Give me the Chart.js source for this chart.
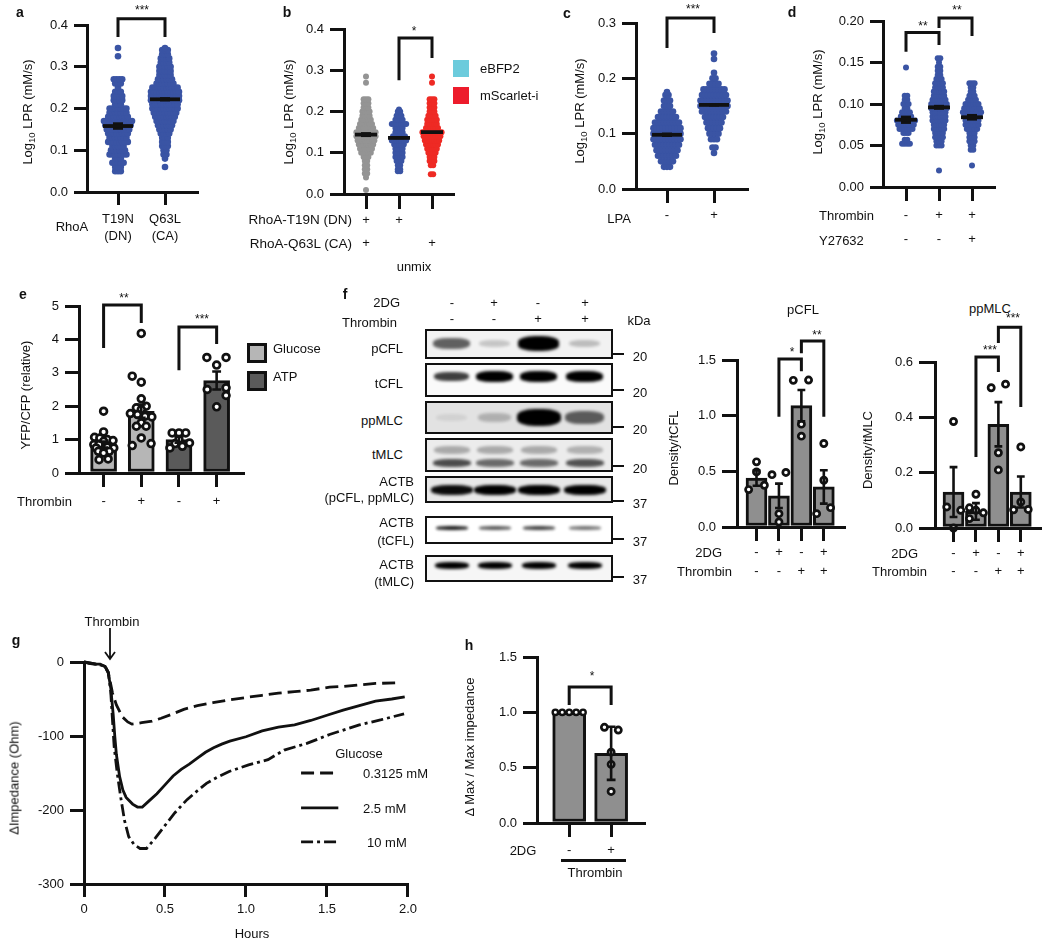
<!DOCTYPE html>
<html>
<head>
<meta charset="utf-8">
<script src="https://cdn.jsdelivr.net/npm/chart.js@4/dist/chart.umd.min.js"></script>
<style>
  body { margin: 0; background: #fff; }
  #fig { position: relative; width: 1050px; height: 946px; overflow: hidden; font-family: "Liberation Sans", Arial, sans-serif; color: #111; }
  #fig canvas { position: absolute; }
  .t { position: absolute; white-space: nowrap; font-size: 13px; line-height: 1; }
  .t sub { font-size: 9.5px; line-height: 0; }
  .box { position: absolute; box-sizing: border-box; border: 2.5px solid #111; overflow: hidden; }
  .band { position: absolute; background: #000; border-radius: 40%; filter: blur(1.5px); }
  .mark { position: absolute; height: 2px; background: #111; }
</style>
</head>
<body>
<div id="fig"></div>
<script>
// panel a: swarm rows, level and number of dots on that level
const a1Levels = [0.05,0.06,0.07,0.08,0.09,0.10,0.11,0.12,0.13,0.14,0.15,0.16,0.17,0.18,0.19,0.20,0.21,0.22,0.23,0.24,0.25,0.26,0.27,0.325,0.345];
const a1Counts = [3,3,5,3,7,6,5,8,7,8,9,10,11,8,7,7,3,4,4,3,1,3,4,1,1];
const a2Levels = [0.06,0.08,0.09,0.10,0.11,0.12,0.13,0.14,0.15,0.16,0.17,0.18,0.19,0.20,0.21,0.22,0.23,0.24,0.25,0.26,0.27,0.28,0.29,0.30,0.31,0.32,0.33,0.34,0.345];
const a2Counts = [1,1,2,2,3,3,3,4,5,6,7,8,9,10,10,11,11,11,10,7,6,5,5,5,4,4,3,3,1];
const aMeans = [0.158, 0.222];
const aSem = [0.009, 0.005];
const aXLabels = [['T19N','(DN)'],['Q63L','(CA)']];
const aBrackets = [[1,0.371,0.415,2,0.371]];

// panel b
const b1Levels = [0.01,0.04,0.05,0.06,0.07,0.08,0.09,0.10,0.11,0.12,0.13,0.14,0.15,0.16,0.17,0.18,0.19,0.20,0.21,0.22,0.23,0.27,0.285];
const b1Counts = [1,1,2,2,2,2,3,5,6,7,8,9,9,7,6,5,4,4,3,3,3,1,1];
const b2Levels = [0.055,0.06,0.07,0.08,0.09,0.10,0.11,0.12,0.13,0.14,0.15,0.16,0.17,0.18,0.19,0.20,0.205];
const b2Counts = [2,2,2,3,4,4,4,5,7,6,4,4,7,4,3,2,1];
const b3Levels = [0.048,0.07,0.08,0.09,0.10,0.11,0.12,0.13,0.14,0.15,0.16,0.17,0.18,0.19,0.20,0.21,0.22,0.23,0.27,0.285];
const b3Counts = [2,2,3,3,4,5,6,7,8,9,6,5,5,4,3,3,3,3,1,1];
const bMeans = [0.144, 0.136, 0.15];
const bSem = [0.006, 0.003, 0.002];
const bXLabels = [['+','+','mix'],['+','',''],['','+','']];
const bBrackets = [[2,0.276,0.378,3,0.33]];

// panel c
const c1Levels = [0.04,0.05,0.06,0.07,0.08,0.09,0.10,0.11,0.12,0.13,0.14,0.15,0.16,0.17,0.175];
const c1Counts = [3,5,7,8,9,10,10,10,9,7,5,3,3,2,1];
const c2Levels = [0.065,0.075,0.09,0.10,0.11,0.12,0.13,0.14,0.15,0.16,0.17,0.18,0.19,0.20,0.21,0.235,0.245];
const c2Counts = [1,2,3,4,5,6,7,9,10,10,9,8,4,2,1,1,1];
const cMeans = [0.098, 0.152];
const cSem = [0.004, 0.003];
const cXLabels = ['-','+'];
const cBrackets = [[1,0.255,0.309,2,0.282]];

// panel d
const d1Levels = [0.052,0.057,0.065,0.07,0.075,0.08,0.085,0.09,0.095,0.10,0.105,0.11,0.144];
const d1Counts = [4,2,3,6,7,8,5,4,2,3,2,2,1];
const d2Levels = [0.02,0.05,0.055,0.06,0.065,0.07,0.075,0.08,0.085,0.09,0.095,0.10,0.105,0.11,0.115,0.12,0.125,0.13,0.135,0.14,0.145,0.15,0.155];
const d2Counts = [1,3,3,4,4,5,5,6,6,6,7,7,6,5,5,4,4,3,2,2,2,1,2];
const d3Levels = [0.026,0.045,0.05,0.055,0.06,0.065,0.07,0.075,0.08,0.085,0.09,0.095,0.10,0.105,0.11,0.115,0.12,0.125];
const d3Counts = [1,2,2,3,3,3,5,6,6,7,8,7,6,4,3,2,2,3];
const dMeans = [0.081, 0.096, 0.084];
const dSem = [0.005, 0.003, 0.004];
const dXLabels = [['-','-'],['+','-'],['+','+']];
const dBrackets = [[1,0.163,0.186,2,0.171],[2,0.1916,0.2036,3,0.182]];

// panel e
const eHeights = [0.85, 1.85, 1.0, 2.77];
const eErrors = [0.09, 0.2, 0.09, 0.27];
const e1Values = [1.85,1.23,1.07,1.05,1.0,0.97,0.95,0.85,0.85,0.78,0.75,0.75,0.65,0.65,0.6,0.42,0.40];
const e1Jitter = [0,0,-0.24,-0.1,0.1,0.25,0,-0.26,-0.12,0.1,0.27,-0.2,-0.14,0.15,0,0.12,-0.12];
const e2Values = [4.18,2.9,2.72,2.22,2.0,1.95,1.9,1.78,1.75,1.7,1.68,1.5,1.4,1.4,1.05,0.88,0.82];
const e2Jitter = [0,-0.24,0,0,0.13,-0.13,0,-0.29,-0.1,0.1,0.28,0,-0.13,0.13,0,0.26,-0.24];
const e3Values = [1.2,1.2,1.2,1.0,0.9,0.88,0.8,0.75];
const e3Jitter = [-0.18,0,0.18,0,0.28,-0.1,0.09,-0.24];
const e4Values = [3.46,3.46,3.23,2.55,2.5,2.32,1.98];
const e4Jitter = [-0.26,0.25,0,0.25,-0.25,0.25,0];
const eXLabels = ['-','+','-','+'];
const eBrackets = [[1,3.74,5.03,2,4.49],[3,3.08,4.37,4,3.86]];

// panel f, quantification
const fXLabels = [['-','-'],['+','-'],['-','+'],['+','+']];
const pcflHeights = [0.44, 0.28, 1.09, 0.36];
const pcflErrors = [0.07, 0.11, 0.14, 0.15];
const pcfl1Values = [0.585,0.495,0.375,0.336];
const pcfl1Jitter = [0,0,0.35,-0.35];
const pcfl2Values = [0.49,0.47,0.12,0.045];
const pcfl2Jitter = [0.31,-0.31,0,0];
const pcfl3Values = [1.32,1.317,0.924,0.816];
const pcfl3Jitter = [0.32,-0.36,0,0];
const pcfl4Values = [0.75,0.42,0.174,0.12];
const pcfl4Jitter = [0,0,0.3,-0.32];
const pcflBrackets = [[2,0.99,1.51,3,1.40],[3,1.56,1.67,4,0.99]];

const ppmlcHeights = [0.13, 0.06, 0.375, 0.13];
const ppmlcErrors = [0.09, 0.03, 0.08, 0.056];
const ppmlc1Values = [0.385,0.076,0.064,0];
const ppmlc1Jitter = [0,-0.3,0.32,0];
const ppmlc2Values = [0.122,0.073,0.064,0.055,0.034];
const ppmlc2Jitter = [0,-0.29,0,0.33,-0.29];
const ppmlc3Values = [0.52,0.507,0.272,0.21];
const ppmlc3Jitter = [0.32,-0.32,0,0];
const ppmlc4Values = [0.293,0.094,0.067,0.066];
const ppmlc4Jitter = [0,0,0.33,-0.32];
const ppmlcBrackets = [[2,0.257,0.618,3,0.564],[3,0.669,0.726,4,0.437]];

// blot band strength, one value per lane
const bandPcfl = [0.6,0.18,1,0.22];
const bandTcfl = [0.75,1,1,1];
const bandPpmlc = [0.07,0.22,1,0.6];
const bandTmlcUp = [0.28,0.28,0.28,0.25];
const bandTmlcLow = [0.68,0.55,0.55,0.65];
const bandActb1 = [0.95,1,1,1];
const bandActb2 = [0.9,0.65,0.75,0.55];
const bandActb3 = [1,1,1,1];

// panel g
const gTicks = [0, 0.5, 1, 1.5, 2];
const gTickLabels = ['0','0.5','1.0','1.5','2.0'];
const gHours2 = [0,0.03,0.06,0.1,0.13,0.15,0.165,0.18,0.19,0.2,0.22,0.24,0.26,0.3,0.33,0.36,0.4,0.45,0.5,0.55,0.6,0.65,0.7,0.75,0.8,0.85,0.9,1,1.1,1.2,1.3,1.4,1.5,1.6,1.7,1.8,1.9,1.98];
const gSolid = [0,-2,-3,-3,-6,-15,-35,-70,-100,-125,-155,-173,-183,-192,-196,-196,-188,-178,-166,-154,-145,-138,-130,-122,-116,-111,-107,-101,-93,-88,-85,-79,-72,-65,-59,-53,-50,-47];
const gHoursLow = [0,0.05,0.1,0.13,0.15,0.176,0.2,0.236,0.27,0.296,0.356,0.42,0.476,0.55,0.616,0.7,0.796,0.9,1,1.1,1.2,1.3,1.4,1.516,1.6,1.7,1.8,1.936];
const gLow = [0,-2,-4,-6,-14,-42,-58,-74,-81,-84,-82,-80,-76,-70,-64,-59,-55,-51,-48,-45,-42,-40,-38,-34,-33,-31,-29,-28];
const gHoursHigh = [0,0.05,0.1,0.13,0.15,0.165,0.186,0.205,0.226,0.25,0.276,0.31,0.346,0.386,0.44,0.496,0.56,0.636,0.7,0.756,0.82,0.896,1.016,1.136,1.236,1.376,1.516,1.7,1.836,1.976];
const gHigh = [0,-2,-4,-6,-14,-40,-114,-150,-182,-214,-236,-247,-252,-252,-238,-222,-204,-186,-174,-164,-156,-148,-139,-132,-119,-110,-98,-85,-78,-70];
const gLegendX = [1.34, 1.57];
const gLegendY = [-150, -197, -243];

// panel h
const hHeights = [1.0, 0.63];
const h1Values = [1,1,1,1,1];
const h1Jitter = [-0.33,-0.166,0,0.166,0.33];
const h2Values = [0.865,0.84,0.64,0.53,0.285];
const h2Jitter = [-0.16,0.17,0,0,0];
const hErrors = [0, 0.24];
const hXLabels = ['-','+'];
const hBrackets = [[1,1.066,1.229,2,1.066]];

const fig = document.getElementById('fig');
const FONT = '"Liberation Sans", Arial, sans-serif';
const BLUE = '#3a54a4', GREY = '#949494', RED = '#ee2a24', LIGHT = '#b6b6b6', DARK = '#5a5a5a', MID = '#8f8f8f';
const LW = 3;

function text(str, x, y, o = {}) {
  const el = document.createElement('div');
  el.className = 't';
  el.innerHTML = str;
  const tx = o.align === 'l' ? '0' : o.align === 'r' ? '-100%' : '-50%';
  el.style.left = x + 'px';
  el.style.top = y + 'px';
  el.style.transform = `translate(${tx},-50%)` + (o.rot ? ' rotate(-90deg)' : '');
  if (o.size) el.style.fontSize = o.size + 'px';
  if (o.bold) el.style.fontWeight = 'bold';
  fig.appendChild(el);
}

function stars(str, x, y) { text(str, x, y + 2, { size: 12 }); }
function letter(str, x, y) { text(str, x, y, { bold: true, size: 14 }); }

// swarm rows are spread around the category, dotPx apart
function swarm(x, levels, counts, dotPx, unit) {
  const pts = [];
  levels.forEach((v, i) => {
    for (let k = 0; k < counts[i]; k++) {
      pts.push({ x: x + (k - (counts[i] - 1) / 2) * dotPx / unit, y: v });
    }
  });
  return pts;
}

function dots(x, values, jitter) {
  return values.map((v, i) => ({ x: x + jitter[i], y: v }));
}

function lineSet(data, width, extra) {
  return Object.assign({ data, showLine: true, borderColor: '#111', borderWidth: width, pointRadius: 0, tension: 0, clip: false, borderCapStyle: 'butt', borderJoinStyle: 'miter' }, extra);
}

function bracketSets(list) {
  return list.map(b => lineSet([{ x: b[0], y: b[1] }, { x: b[0], y: b[2] }, { x: b[3], y: b[2] }, { x: b[3], y: b[4] }], LW));
}

function errorSet(means, errs, capPx, unit) {
  const d = [];
  means.forEach((m, i) => {
    if (!errs[i]) return;
    const x = i + 1, c = capPx / unit;
    d.push({ x, y: m - errs[i] }, { x, y: m + errs[i] }, { x, y: NaN });
    d.push({ x: x - c, y: m + errs[i] }, { x: x + c, y: m + errs[i] }, { x, y: NaN });
    d.push({ x: x - c, y: m - errs[i] }, { x: x + c, y: m - errs[i] }, { x, y: NaN });
  });
  return lineSet(d, LW - 0.4);
}

// thick mean bar and the short sem block of the swarm panels
function meanSets(means, sems, halfPx, unit) {
  const out = [];
  means.forEach((m, i) => {
    const x = i + 1;
    out.push(lineSet([{ x: x - halfPx / unit, y: m }, { x: x + halfPx / unit, y: m }], 3.8));
    out.push(lineSet([{ x, y: m - sems[i] }, { x, y: m + sems[i] }], 10));
  });
  return out;
}

function dotSet(data, color, r) {
  return { data, pointRadius: r, pointBackgroundColor: color, pointBorderWidth: 0, showLine: false, clip: false };
}

function ringSet(data, r, bw) {
  return { data, pointRadius: r, pointBackgroundColor: '#fff', pointBorderColor: '#111', pointBorderWidth: bw || 2.7, showLine: false, clip: false };
}

function barSet(heights, colors, thickness) {
  return { type: 'bar', data: heights.map((h, i) => ({ x: i + 1, y: h })), backgroundColor: colors, borderColor: '#111', borderWidth: 3, borderSkipped: false, barThickness: thickness, clip: false };
}

function panel(l, yOpts, xOpts, datasets) {
  const left = Math.max(0, l.L - 64), top = Math.max(0, l.T - (l.pad || 26));
  const right = l.R + 4, bottom = Math.min(946, l.B + 66);
  const cv = document.createElement('canvas');
  cv.width = right - left;
  cv.height = bottom - top;
  cv.style.left = left + 'px';
  cv.style.top = top + 'px';
  fig.appendChild(cv);
  const xMin = xOpts.min !== undefined ? xOpts.min : 1 - (l.t1 - l.L) / l.unit;
  const xMax = xOpts.max !== undefined ? xOpts.max : xMin + (l.R - l.L) / l.unit;
  new Chart(cv, {
    type: 'scatter',
    data: { datasets },
    options: {
      responsive: false, animation: false, events: [], devicePixelRatio: 1,
      layout: { padding: { top: l.T - top, right: right - l.R, left: 0, bottom: 0 } },
      plugins: { legend: { display: false }, tooltip: { enabled: false } },
      scales: {
        x: {
          type: 'linear', min: xMin, max: xMax, offset: false,
          afterBuildTicks: s => { s.ticks = xOpts.ticks.map(v => ({ value: v })); },
          afterFit: s => { s.height = bottom - l.B; },
          border: { color: '#111', width: LW, z: 1 },
          grid: { offset: false, drawOnChartArea: false, color: '#111', lineWidth: LW, tickLength: l.tickX, z: 1 },
          ticks: {
            autoSkip: false, maxRotation: 0, minRotation: 0, color: '#111',
            padding: l.row - l.B - l.tickX - l.lh / 2,
            font: { family: FONT, size: xOpts.size || 13, lineHeight: l.lh + 'px' },
            callback: (v, i) => xOpts.labels[i]
          }
        },
        y: {
          type: 'linear', min: yOpts.min, max: yOpts.max,
          afterFit: s => { s.width = l.L - left; },
          border: { color: '#111', width: LW },
          grid: { drawOnChartArea: false, color: '#111', lineWidth: LW, tickLength: l.tickY },
          ticks: {
            stepSize: yOpts.step, color: '#111', padding: 6,
            font: { family: FONT, size: 13 },
            callback: v => yOpts.decimals === undefined ? String(v) : v.toFixed(yOpts.decimals)
          }
        }
      }
    }
  });
}

// a
const aL = { L: 87, R: 197, T: 25, B: 192, t1: 118, unit: 47, tickX: 13, tickY: 13, row: 219, lh: 17 };
panel(aL, { min: 0, max: 0.4, step: 0.1, decimals: 1 }, { ticks: [1, 2], labels: aXLabels }, [
  ...bracketSets(aBrackets),
  ...meanSets(aMeans, aSem, 15, aL.unit),
  dotSet(swarm(1, a1Levels, a1Counts, 2.8, aL.unit), BLUE, 3.3),
  dotSet(swarm(2, a2Levels, a2Counts, 2.8, aL.unit), BLUE, 3.3)
]);
letter('a', 20, 12);
text('Log<sub>10</sub> LPR (mM/s)', 27, 112, { rot: true });
text('RhoA', 72, 226);
stars('***', 142, 8);

// b
const bL = { L: 344, R: 453, T: 29, B: 194, t1: 366, unit: 33, tickX: 15, tickY: 14, row: 220, lh: 23 };
panel(bL, { min: 0, max: 0.4, step: 0.1, decimals: 1 }, { ticks: [1, 2, 3], labels: bXLabels }, [
  ...bracketSets(bBrackets),
  ...meanSets(bMeans, bSem, 11, bL.unit),
  dotSet(swarm(1, b1Levels, b1Counts, 2.4, bL.unit), GREY, 3),
  dotSet(swarm(2, b2Levels, b2Counts, 2.4, bL.unit), BLUE, 3),
  dotSet(swarm(3, b3Levels, b3Counts, 2.4, bL.unit), RED, 3)
]);
letter('b', 287, 12);
text('Log<sub>10</sub> LPR (mM/s)', 288, 112, { rot: true });
text('RhoA-T19N (DN)', 352, 220, { align: 'r', size: 13.5 });
text('RhoA-Q63L (CA)', 352, 244, { align: 'r', size: 13.5 });
text('unmix', 414, 266);
stars('*', 414, 29);
[['#6ccbdc', 60, 'eBFP2', 68], ['#ed1c2c', 87, 'mScarlet-i', 95]].forEach(k => {
  const s = document.createElement('div');
  s.style.cssText = `position:absolute;left:453px;top:${k[1]}px;width:16px;height:17px;background:${k[0]}`;
  fig.appendChild(s);
  text(k[2], 480, k[3], { align: 'l' });
});

// c
const cL = { L: 636, R: 747, T: 23, B: 189, t1: 667, unit: 47, tickX: 14, tickY: 14, row: 215, lh: 16 };
panel(cL, { min: 0, max: 0.3, step: 0.1, decimals: 1 }, { ticks: [1, 2], labels: cXLabels }, [
  ...bracketSets(cBrackets),
  ...meanSets(cMeans, cSem, 15, cL.unit),
  dotSet(swarm(1, c1Levels, c1Counts, 3, cL.unit), BLUE, 3.3),
  dotSet(swarm(2, c2Levels, c2Counts, 3, cL.unit), BLUE, 3.3)
]);
letter('c', 567, 13);
text('Log<sub>10</sub> LPR (mM/s)', 579, 111, { rot: true });
text('LPA', 619, 218);
stars('***', 693, 7);

// d
const dL = { L: 883, R: 994, T: 21, B: 187, t1: 906, unit: 33, tickX: 14, tickY: 13, row: 215, lh: 24 };
panel(dL, { min: 0, max: 0.2, step: 0.05, decimals: 2 }, { ticks: [1, 2, 3], labels: dXLabels }, [
  ...bracketSets(dBrackets),
  ...meanSets(dMeans, dSem, 11, dL.unit),
  dotSet(swarm(1, d1Levels, d1Counts, 2.6, dL.unit), BLUE, 3),
  dotSet(swarm(2, d2Levels, d2Counts, 2.6, dL.unit), BLUE, 3),
  dotSet(swarm(3, d3Levels, d3Counts, 2.6, dL.unit), BLUE, 3)
]);
letter('d', 792, 12);
text('Log<sub>10</sub> LPR (mM/s)', 817, 102, { rot: true });
text('Thrombin', 819, 215, { align: 'l' });
text('Y27632', 819, 240, { align: 'l' });
stars('**', 923, 24);
stars('**', 957, 8);

// e
const eL = { L: 79, R: 246, T: 306, B: 473, t1: 104, unit: 38.3, tickX: 14, tickY: 14, row: 501, lh: 16 };
panel(eL, { min: 0, max: 5, step: 1 }, { ticks: [1, 2, 3, 4], labels: eXLabels }, [
  ...bracketSets(eBrackets),
  errorSet(eHeights, eErrors, 4.5, eL.unit),
  ringSet(dots(1, e1Values, e1Jitter), 3.4),
  ringSet(dots(2, e2Values, e2Jitter), 3.4),
  ringSet(dots(3, e3Values, e3Jitter), 3.4),
  ringSet(dots(4, e4Values, e4Jitter), 3.4),
  barSet(eHeights, [LIGHT, LIGHT, DARK, DARK], 26)
]);
letter('e', 23, 294);
text('YFP/CFP (relative)', 25, 395, { rot: true });
text('Thrombin', 17, 501, { align: 'l' });
stars('**', 124, 296);
stars('***', 202, 317);
[[LIGHT, 343, 'Glucose', 348], [DARK, 371, 'ATP', 376]].forEach(k => {
  const s = document.createElement('div');
  s.className = 'box';
  s.style.cssText = `left:247px;top:${k[1]}px;width:20px;height:20px;background:${k[0]};border-width:3px`;
  fig.appendChild(s);
  text(k[2], 273, k[3], { align: 'l' });
});

// f, blots
const laneX = [452, 495, 539, 585];
function blot(top, height, bg, rows, tickY, kda) {
  const b = document.createElement('div');
  b.className = 'box';
  b.style.cssText = `left:425px;top:${top}px;width:188px;height:${height}px;background:${bg}`;
  rows.forEach(r => {
    r.values.forEach((v, i) => {
      const d = document.createElement('div');
      d.className = 'band';
      const w = r.w * (r.scale ? 0.75 + 0.35 * v : 1), h = r.h * (r.scale ? 0.5 + 0.7 * v : 1);
      d.style.cssText = `left:${laneX[i] - 425 - w / 2 - 2.5}px;top:${r.y - top - h / 2 - 2.5}px;width:${w}px;height:${h}px;opacity:${v}`;
      b.appendChild(d);
    });
  });
  fig.appendChild(b);
  const m = document.createElement('div');
  m.className = 'mark';
  m.style.cssText = `left:613px;top:${tickY}px;width:11px`;
  fig.appendChild(m);
  text(kda, 640, tickY + 3);
}
blot(329, 30, '#f2f2f2', [{ y: 344, w: 38, h: 12, values: bandPcfl, scale: true }], 353, '20');
blot(363, 34, '#fafafa', [{ y: 377, w: 34, h: 9, values: bandTcfl, scale: true }], 389, '20');
blot(401, 33, '#e2e2e2', [{ y: 418, w: 40, h: 14, values: bandPpmlc, scale: true }], 426, '20');
blot(438, 34, '#ececec', [{ y: 450, w: 36, h: 8, values: bandTmlcUp }, { y: 463, w: 38, h: 8, values: bandTmlcLow }], 465, '20');
blot(476, 27, '#e8e8e8', [{ y: 490, w: 42, h: 10, values: bandActb1 }], 500, '37');
blot(516, 28, '#fff', [{ y: 528, w: 32, h: 4, values: bandActb2 }], 538, '37');
blot(555, 27, '#f6f6f6', [{ y: 566, w: 34, h: 7, values: bandActb3 }], 576, '37');
letter('f', 345, 294);
text('2DG', 400, 302, { align: 'r' });
text('Thrombin', 397, 322, { align: 'r' });
text('kDa', 639, 320);
[['-', '+', '-', '+'], ['-', '-', '+', '+']].forEach((row, r) => {
  row.forEach((s, i) => text(s, [452, 494, 538, 585][i], r ? 318 : 302));
});
[['pCFL', 348], ['tCFL', 383], ['ppMLC', 420], ['tMLC', 454], ['ACTB', 481], ['(pCFL, ppMLC)', 497], ['ACTB', 522], ['(tCFL)', 540], ['ACTB', 564], ['(tMLC)', 581]].forEach((k, i) => {
  text(k[0], i < 4 ? 403 : 414, k[1], { align: 'r' });
});

// f, pCFL bars
const pcL = { L: 737, R: 847, T: 360, B: 527, t1: 757, unit: 23, tickX: 14, tickY: 15, row: 552, lh: 19 };
panel(pcL, { min: 0, max: 1.5, step: 0.5, decimals: 1 }, { ticks: [1, 2, 3, 4], labels: fXLabels }, [
  ...bracketSets(pcflBrackets),
  errorSet(pcflHeights, pcflErrors, 4, pcL.unit),
  ringSet(dots(1, pcfl1Values, pcfl1Jitter), 3.1),
  ringSet(dots(2, pcfl2Values, pcfl2Jitter), 3.1),
  ringSet(dots(3, pcfl3Values, pcfl3Jitter), 3.1),
  ringSet(dots(4, pcfl4Values, pcfl4Jitter), 3.1),
  barSet(pcflHeights, MID, 21)
]);
text('pCFL', 803, 309);
text('Density/tCFL', 673, 448, { rot: true });
text('2DG', 722, 552, { align: 'r' });
text('Thrombin', 732, 571, { align: 'r' });
stars('*', 792, 350);
stars('**', 817, 333);

// f, ppMLC bars
const pmL = { L: 935, R: 1043, T: 362, B: 528, t1: 954, unit: 23, tickX: 14, tickY: 16, row: 553, lh: 18, pad: 42 };
panel(pmL, { min: 0, max: 0.6, step: 0.2, decimals: 1 }, { ticks: [1, 2, 3, 4], labels: fXLabels }, [
  ...bracketSets(ppmlcBrackets),
  errorSet(ppmlcHeights, ppmlcErrors, 4, pmL.unit),
  ringSet(dots(1, ppmlc1Values, ppmlc1Jitter), 3.1),
  ringSet(dots(2, ppmlc2Values, ppmlc2Jitter), 3.1),
  ringSet(dots(3, ppmlc3Values, ppmlc3Jitter), 3.1),
  ringSet(dots(4, ppmlc4Values, ppmlc4Jitter), 3.1),
  barSet(ppmlcHeights, MID, 21)
]);
text('ppMLC', 990, 308);
text('Density/tMLC', 867, 450, { rot: true });
text('2DG', 918, 553, { align: 'r' });
text('Thrombin', 927, 571, { align: 'r' });
stars('***', 990, 348);
stars('***', 1013, 316);

// g
const gL = { L: 84, R: 417, T: 662, B: 884, tickX: 13, tickY: 14, row: 909, lh: 16, pad: 20 };
const toXY = (xs, ys) => xs.map((x, i) => ({ x, y: ys[i] }));
panel(gL, { min: -300, max: 0, step: 100 }, { min: 0, max: 2, ticks: gTicks, labels: gTickLabels }, [
  lineSet(toXY(gHoursLow, gLow), 2.8, { borderDash: [13, 6] }),
  lineSet(toXY(gHours2, gSolid), 2.8),
  lineSet(toXY(gHoursHigh, gHigh), 2.8, { borderDash: [12, 4, 3, 4] }),
  lineSet(gLegendX.map(x => ({ x, y: gLegendY[0] })), 2.8, { borderDash: [13, 6] }),
  lineSet(gLegendX.map(x => ({ x, y: gLegendY[1] })), 2.8),
  lineSet(gLegendX.map(x => ({ x, y: gLegendY[2] })), 2.8, { borderDash: [12, 4, 3, 4] })
]);
letter('g', 16, 640);
text('Thrombin', 112, 621);
text('ΔImpedance (Ohm)', 14, 778, { rot: true });
text('Hours', 252, 933);
text('Glucose', 359, 753);
text('0.3125 mM', 363, 773, { align: 'l' });
text('2.5 mM', 363, 808, { align: 'l' });
text('10 mM', 367, 842, { align: 'l' });
const arrow = document.createElementNS('http://www.w3.org/2000/svg', 'svg');
arrow.setAttribute('width', 20);
arrow.setAttribute('height', 36);
arrow.style.cssText = 'position:absolute;left:100px;top:628px';
arrow.innerHTML = '<path d="M10 0V30M5 24L10 31L15 24" fill="none" stroke="#111" stroke-width="1.8"/>';
fig.appendChild(arrow);

// h
const hL = { L: 537, R: 647, T: 657, B: 823, t1: 570, unit: 43, tickX: 14, tickY: 14, row: 850, lh: 16 };
panel(hL, { min: 0, max: 1.5, step: 0.5, decimals: 1 }, { ticks: [1, 2], labels: hXLabels }, [
  ...bracketSets(hBrackets),
  errorSet(hHeights, hErrors, 4.5, hL.unit),
  ringSet(dots(1, h1Values, h1Jitter), 2.7, 2.4),
  ringSet(dots(2, h2Values, h2Jitter), 3.1),
  barSet(hHeights, MID, 33)
]);
letter('h', 469, 645);
text('Δ Max / Max impedance', 469, 747, { rot: true });
text('2DG', 523, 850);
text('Thrombin', 595, 872);
stars('*', 592, 674);
const rule = document.createElement('div');
rule.className = 'mark';
rule.style.cssText = 'left:561px;top:859px;width:65px;height:2.5px';
fig.appendChild(rule);
</script>
</body>
</html>
